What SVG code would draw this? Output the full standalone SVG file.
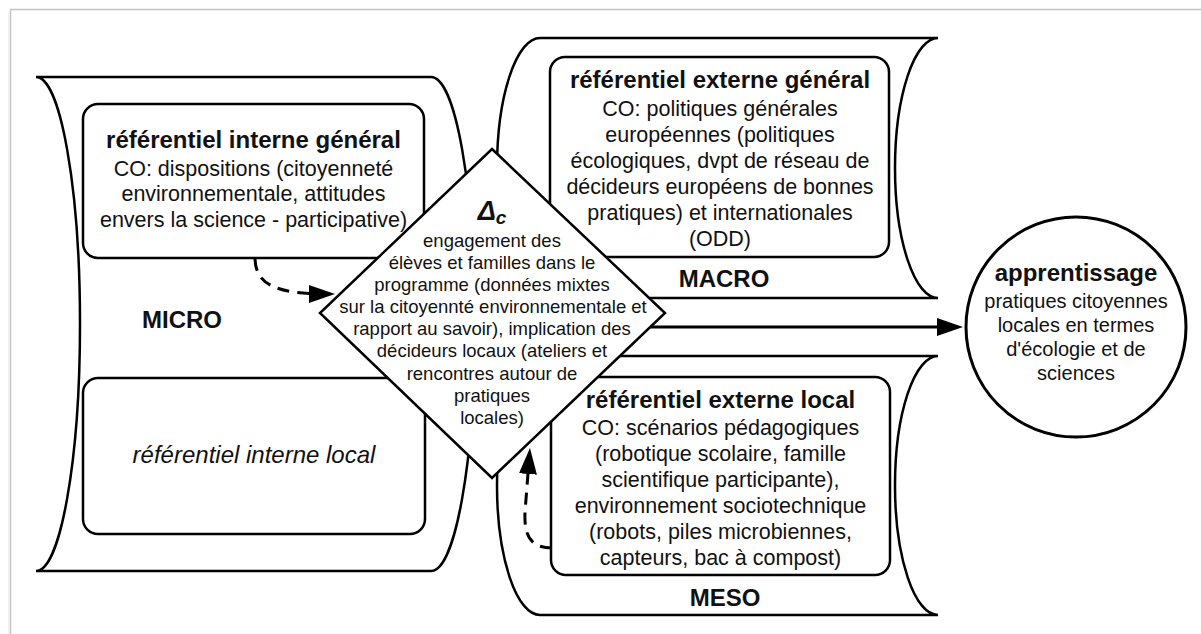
<svg xmlns="http://www.w3.org/2000/svg" width="1201" height="634" viewBox="0 0 1201 634">
<style>
  .shape { fill: #fff; stroke: #000; stroke-width: 2.5; }
  .box { fill: #fff; stroke: #000; stroke-width: 2.5; }
  text { font-family: "Liberation Sans", Arial, sans-serif; fill: #111; text-anchor: middle; }
  .t { font-size: 21.5px; }
  .b { font-size: 24px; font-weight: bold; }
  .d { font-size: 18.5px; }
  .c { font-size: 20px; }
  .lvl { font-size: 24px; font-weight: bold; }
  .conn { fill: none; stroke: #000; stroke-width: 3; }
  .dash { stroke-dasharray: 12 8; }
</style>
<defs>
  <marker id="ah" markerUnits="userSpaceOnUse" viewBox="0 0 26 18" refX="20" refY="9" markerWidth="26" markerHeight="18" orient="auto">
    <path d="M0,0 L26,9 L0,18 Z" fill="#000"/>
  </marker>
</defs>
<rect x="0" y="0" width="1201" height="634" fill="#fff"/>
<g id="frame">
  <line x1="10" y1="9.5" x2="1201" y2="9.5" stroke="#c4c4c4" stroke-width="1.5"/>
  <line x1="10.5" y1="9" x2="10.5" y2="634" stroke="#c4c4c4" stroke-width="1.5"/>
  <line x1="9" y1="12" x2="9" y2="634" stroke="#ececec" stroke-width="1.5"/>
</g>
<g id="micro">
  <path class="shape" d="M36,77 L431,77 A44,247 0 0 1 431,571 L36,571 A44,247 0 0 0 36,77 Z"/>
  <text class="lvl" x="182" y="328">MICRO</text>
</g>
<g id="macro">
  <path class="shape" d="M540,38 L938,38 A43,130 0 0 0 938,298 L540,298 A43,130 0 0 1 540,38 Z"/>
  <text class="lvl" x="724" y="287">MACRO</text>
</g>
<g id="meso">
  <path class="shape" d="M540,356 L938,356 A43,129.5 0 0 0 938,615 L540,615 A43,129.5 0 0 1 540,356 Z"/>
  <text class="lvl" x="725" y="606">MESO</text>
</g>
<g id="interne-general">
  <rect class="box" x="83" y="104" width="341" height="154" rx="15"/>
  <text class="b" x="253.5" y="148">référentiel interne général</text>
  <text class="t" x="253.5" y="176">CO: dispositions (citoyenneté</text>
  <text class="t" x="253.5" y="201">environnementale, attitudes</text>
  <text class="t" x="253.5" y="227">envers la science - participative)</text>
</g>
<g id="interne-local">
  <rect class="box" x="83" y="378" width="342" height="156" rx="15"/>
  <text x="254" y="463" style="font-size:24px;font-style:italic">référentiel interne local</text>
</g>
<g id="externe-general">
  <rect class="box" x="550" y="57" width="339" height="200" rx="15"/>
  <text class="b" x="720" y="88">référentiel externe général</text>
  <text class="t" x="720" y="116">CO: politiques générales</text>
  <text class="t" x="720" y="142">européennes (politiques</text>
  <text class="t" x="720" y="168">écologiques, dvpt de réseau de</text>
  <text class="t" x="720" y="194">décideurs européens de bonnes</text>
  <text class="t" x="720" y="220">pratiques) et internationales</text>
  <text class="t" x="720" y="246">(ODD)</text>
</g>
<g id="externe-local">
  <rect class="box" x="551" y="377" width="339" height="198" rx="15"/>
  <text class="b" x="720.5" y="408">référentiel externe local</text>
  <text class="t" x="720.5" y="435">CO: scénarios pédagogiques</text>
  <text class="t" x="720.5" y="461">(robotique scolaire, famille</text>
  <text class="t" x="720.5" y="487">scientifique participante),</text>
  <text class="t" x="720.5" y="513">environnement sociotechnique</text>
  <text class="t" x="720.5" y="539">(robots, piles microbiennes,</text>
  <text class="t" x="720.5" y="565">capteurs, bac à compost)</text>
</g>
<g id="delta">
  <path class="shape" d="M492,149 L665,313 L492,478 L320,313 Z"/>
  <text x="492" y="220" style="font-weight:bold;font-style:italic"><tspan style="font-size:27px">Δ</tspan><tspan style="font-size:19px" dy="4">c</tspan></text>
  <text class="d" x="492" y="247">engagement des</text>
  <text class="d" x="492" y="269">élèves et familles dans le</text>
  <text class="d" x="492" y="291">programme (données mixtes</text>
  <text class="d" x="493" y="313">sur la citoyennté environnementale et</text>
  <text class="d" x="492" y="335">rapport au savoir), implication des</text>
  <text class="d" x="492" y="357">décideurs locaux (ateliers et</text>
  <text class="d" x="492" y="380">rencontres autour de</text>
  <text class="d" x="492" y="402">pratiques</text>
  <text class="d" x="492" y="424">locales)</text>
</g>
<g id="apprentissage">
  <circle cx="1076" cy="327" r="110" fill="#fff" stroke="#000" stroke-width="3"/>
  <text class="b" x="1076" y="281">apprentissage</text>
  <text class="c" x="1076" y="308">pratiques citoyennes</text>
  <text class="c" x="1076" y="332">locales en termes</text>
  <text class="c" x="1076" y="356">d'écologie et de</text>
  <text class="c" x="1076" y="380">sciences</text>
</g>
<g id="connectors">
  <line class="conn" x1="650" y1="327" x2="957" y2="327" marker-end="url(#ah)"/>
  <path class="conn dash" d="M255,259 C256,284 274,294 329,294" marker-end="url(#ah)"/>
  <path class="conn dash" d="M552,548 C530,548 524,535 525,512 L529.5,454" marker-end="url(#ah)"/>
</g>
</svg>
